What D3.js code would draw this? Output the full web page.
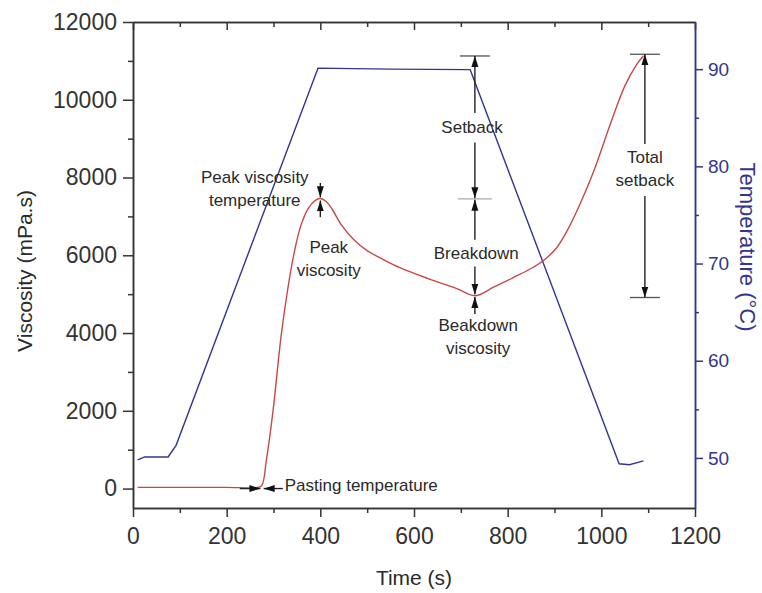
<!doctype html>
<html>
<head>
<meta charset="utf-8">
<style>
body { margin: 0; background: #fff; }
svg { font-family: "Liberation Sans", Arial, sans-serif; }
.axis path, .axis line { stroke: #333; stroke-width: 1.5; }
.axis text { fill: #333; font-size: 23px; }
.axis.temp path, .axis.temp line { stroke: #35358a; }
.axis.temp text { fill: #35358a; font-size: 19px; }
.note { fill: #2a2a2a; font-size: 17px; }
</style>
<script src="https://d3js.org/d3.v7.min.js"></script>
</head>
<body>
<svg width="762" height="593"></svg>
<script>
// time axis
var timeTicks = [0, 200, 400, 600, 800, 1000, 1200];
var timeMinor = [100, 300, 500, 700, 900, 1100];
var viscTicks = [0, 2000, 4000, 6000, 8000, 10000, 12000];
var viscMinor = [1000, 3000, 5000, 7000, 9000, 11000];
var tempTicks = [50, 60, 70, 80, 90];
var tempMinor = [55, 65, 75, 85];

// temperature profile (blue)
var tempTime = [10, 25, 75, 92, 395, 550, 720, 1038, 1060, 1090];
var tempValues = [49.8, 50.1, 50.1, 51.3, 90.1, 90.0, 89.95, 49.4, 49.3, 49.7];

// viscosity curve (red)
var viscTime = [10, 100, 200, 266, 275, 285, 299, 316, 330, 343, 358, 374, 388, 400, 412, 425, 445, 470, 500, 530, 570, 630, 690, 730, 770, 811, 850, 880, 905, 930, 955, 985, 1020, 1050, 1075, 1090];
var viscValues = [30, 30, 30, 30, 80, 750, 2000, 3900, 5100, 6000, 6750, 7200, 7400, 7460, 7390, 7190, 6780, 6420, 6120, 5920, 5680, 5400, 5150, 4960, 5180, 5420, 5660, 5900, 6200, 6700, 7330, 8200, 9400, 10350, 10900, 11130];

// annotation texts, anchored in data units
var noteText = [
	{ lines: ["Peak viscosity", "temperature"], t: 260, v: 8014, anchor: "middle" },
	{ lines: ["Peak", "viscosity"], t: 418, v: 6213, anchor: "middle" },
	{ lines: ["Pasting temperature"], t: 324, v: 90, anchor: "start" },
	{ lines: ["Setback"], t: 724, v: 9300, anchor: "middle" },
	{ lines: ["Breakdown"], t: 733, v: 6060, anchor: "middle" },
	{ lines: ["Beakdown", "viscosity"], t: 737, v: 4205, anchor: "middle" },
	{ lines: ["Total", "setback"], t: 1093, v: 8526, anchor: "middle" }
];

// arrows: from (t0,v0) to (t1,v1), head at the end
var arrowFrom = [[400, 7860], [400, 6980], [228, 0], [320, 0], [730, 9660], [730, 8900], [730, 6400], [730, 5712], [730, 4491], [1093, 8863], [1093, 7526]];
var arrowTo = [[400, 7490], [400, 7410], [272, 0], [279, 0], [730, 11126], [730, 7470], [730, 7430], [730, 4990], [730, 4930], [1093, 11170], [1093, 4914]];

// horizontal caps at the ends of the level arrows
var capTime = [730, 730, 1093, 1093];
var capValues = [11126, 7450, 11170, 4914];

var svg = d3.select("svg");
var W = 762, H = 593;
var margin = { left: 133, right: 67, top: 22, bottom: 85 };

var x = d3.scaleLinear().domain([0, 1200]).range([margin.left, W - margin.right]);
var yV = d3.scaleLinear().domain([-500, 12000]).range([H - margin.bottom, margin.top]);
var yT = d3.scaleLinear().domain([44.85, 94.85]).range([H - margin.bottom, margin.top]);

svg.append("defs").append("marker")
	.attr("id", "head").attr("viewBox", "0 -4 11 8")
	.attr("refX", 11).attr("refY", 0)
	.attr("markerWidth", 11).attr("markerHeight", 8)
	.attr("markerUnits", "userSpaceOnUse").attr("orient", "auto")
	.append("path").attr("d", "M0,-3.5L11,0L0,3.5Z").attr("fill", "#111");

// axes
svg.append("g").attr("class", "axis")
	.attr("transform", "translate(0," + (H - margin.bottom) + ")")
	.call(d3.axisBottom(x).tickValues(timeTicks).tickSize(9).tickSizeOuter(0).tickPadding(11).tickFormat(d3.format("d")));
svg.append("g").attr("class", "axis")
	.attr("transform", "translate(0," + (H - margin.bottom) + ")")
	.call(d3.axisBottom(x).tickValues(timeMinor).tickSize(5).tickSizeOuter(0).tickFormat(""));
svg.append("g").attr("class", "axis")
	.attr("transform", "translate(0," + margin.top + ")")
	.call(d3.axisTop(x).tickValues(timeTicks).tickSize(-8).tickSizeOuter(0).tickFormat(""));
svg.append("g").attr("class", "axis")
	.attr("transform", "translate(0," + margin.top + ")")
	.call(d3.axisTop(x).tickValues(timeMinor).tickSize(-5).tickSizeOuter(0).tickFormat(""));

svg.append("g").attr("class", "axis")
	.attr("transform", "translate(" + margin.left + ",0)")
	.call(d3.axisLeft(yV).tickValues(viscTicks).tickSize(10).tickSizeOuter(0).tickPadding(6).tickFormat(d3.format("d")));
svg.append("g").attr("class", "axis")
	.attr("transform", "translate(" + margin.left + ",0)")
	.call(d3.axisLeft(yV).tickValues(viscMinor).tickSize(5).tickSizeOuter(0).tickFormat(""));

svg.append("g").attr("class", "axis temp")
	.attr("transform", "translate(" + (W - margin.right) + ",0)")
	.call(d3.axisRight(yT).tickValues(tempTicks).tickSize(8).tickSizeOuter(0).tickPadding(5));
svg.append("g").attr("class", "axis temp")
	.attr("transform", "translate(" + (W - margin.right) + ",0)")
	.call(d3.axisRight(yT).tickValues(tempMinor).tickSize(4).tickSizeOuter(0).tickFormat(""));

// axis titles
svg.append("text").attr("transform", "translate(32," + 271 + ") rotate(-90)")
	.attr("text-anchor", "middle").attr("font-size", 21).attr("fill", "#2a2a2a")
	.text("Viscosity (mPa.s)");
svg.append("text").attr("transform", "translate(740," + 247 + ") rotate(90)")
	.attr("text-anchor", "middle").attr("font-size", 22).attr("fill", "#35358a")
	.text("Temperature (°C)");
svg.append("text").attr("x", (margin.left + W - margin.right) / 2).attr("y", 585)
	.attr("text-anchor", "middle").attr("font-size", 21).attr("fill", "#2a2a2a")
	.text("Time (s)");

// curves
var tempLine = d3.line().x(function(d, i) { return x(tempTime[i]); })
	.y(function(d) { return yT(d); });
svg.append("path").datum(tempValues).attr("d", tempLine)
	.attr("fill", "none").attr("stroke", "#35358f").attr("stroke-width", 1.4);

var viscLine = d3.line().curve(d3.curveCatmullRom.alpha(0.5))
	.x(function(d, i) { return x(viscTime[i]); })
	.y(function(d) { return yV(d); });
svg.append("path").datum(viscValues).attr("d", viscLine)
	.attr("fill", "none").attr("stroke", "#c8484a").attr("stroke-width", 1.4);

// caps
svg.selectAll(".cap").data(capValues).enter().append("line").attr("class", "cap")
	.attr("x1", function(d, i) { return x(capTime[i]) - (i == 1 ? 17 : 15); })
	.attr("x2", function(d, i) { return x(capTime[i]) + (i == 1 ? 17 : 15); })
	.attr("y1", function(d) { return yV(d); }).attr("y2", function(d) { return yV(d); })
	.attr("stroke", function(d, i) { return i == 1 ? "#aaa" : "#555"; }).attr("stroke-width", 1.3);

// arrows
svg.selectAll(".arrow").data(arrowFrom).enter().append("line").attr("class", "arrow")
	.attr("x1", function(d) { return x(d[0]); }).attr("y1", function(d) { return yV(d[1]); })
	.attr("x2", function(d, i) { return x(arrowTo[i][0]); }).attr("y2", function(d, i) { return yV(arrowTo[i][1]); })
	.attr("stroke", "#222").attr("stroke-width", 1.4).attr("marker-end", "url(#head)");

// notes
var notes = svg.selectAll(".note").data(noteText).enter().append("text").attr("class", "note")
	.attr("text-anchor", function(d) { return d.anchor; })
	.attr("x", function(d) { return x(d.t); })
	.attr("y", function(d) { return yV(d.v); });
notes.selectAll("tspan").data(function(d) { return d.lines.map(function(l) { return { l: l, t: d.t }; }); })
	.enter().append("tspan")
	.attr("x", function(d) { return x(d.t); })
	.attr("dy", function(d, i) { return i == 0 ? "0.35em" : "23px"; })
	.text(function(d) { return d.l; });
</script>
</body>
</html>
